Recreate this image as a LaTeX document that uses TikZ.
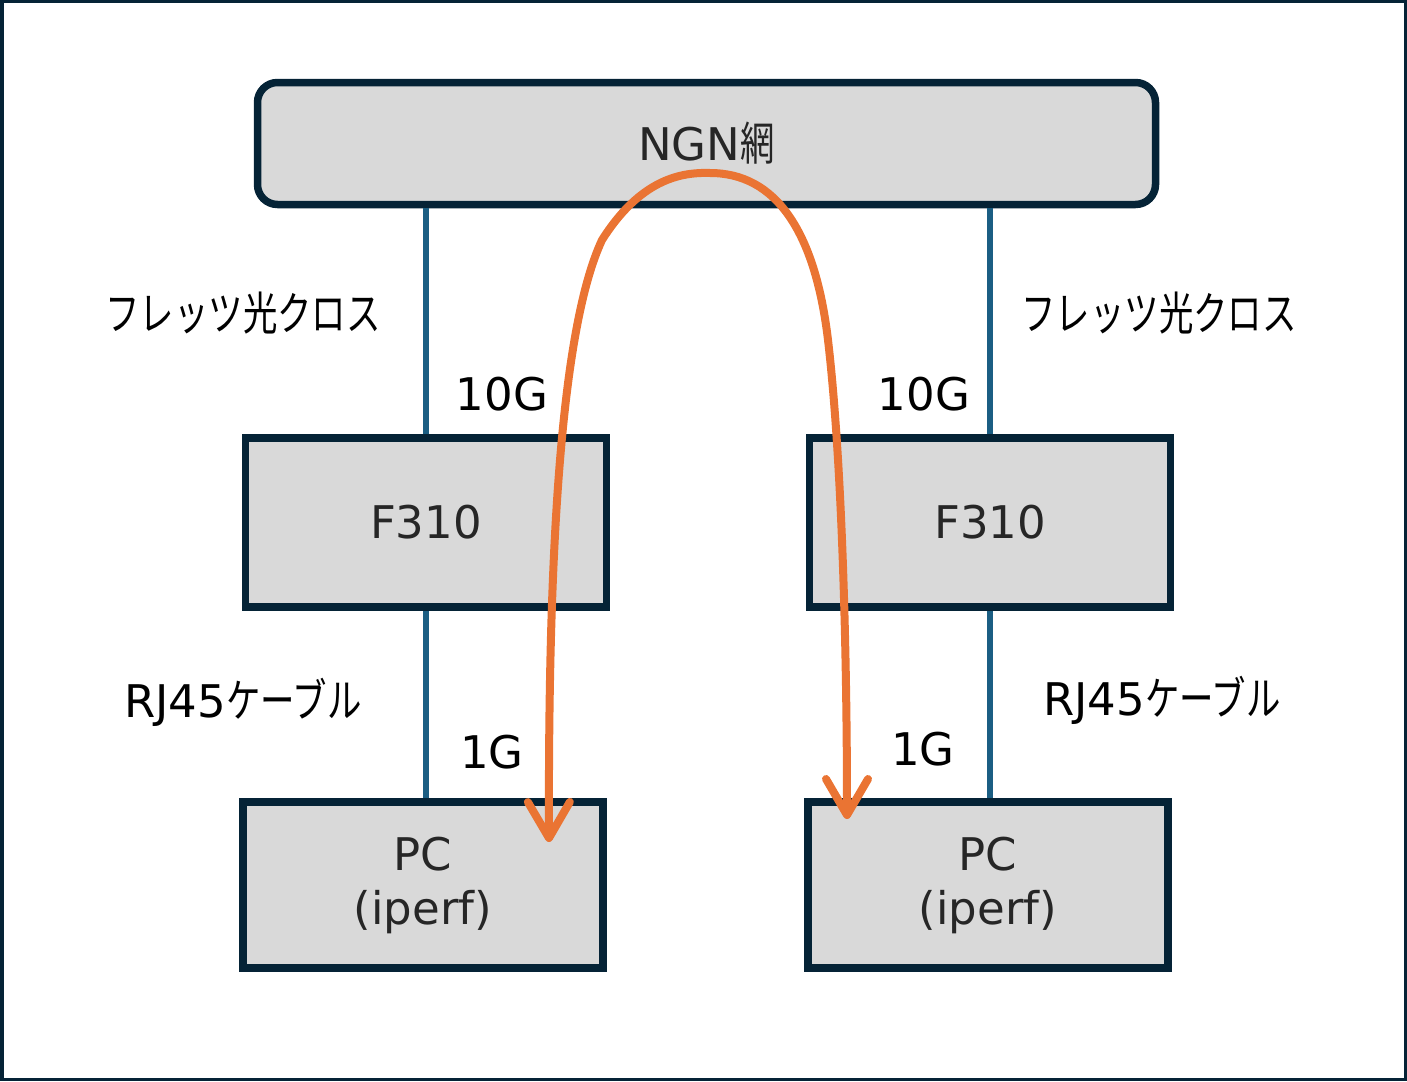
\documentclass[tikz,border=0pt]{standalone}
\usepackage{fontspec}
\setmainfont{DejaVu Sans}
\newfontfamily\cjk[FakeStretch=0.75,Scale=1.02]{Noto Sans CJK JP}
\usepackage{xcolor}
\usepackage{tikz}
\usetikzlibrary{arrows.meta,positioning,calc}
\definecolor{framenavy}{HTML}{052336}
\definecolor{boxgrey}{HTML}{D9D9D9}
\definecolor{inkdark}{HTML}{262626}
\definecolor{linkblue}{HTML}{1B5E83}
\definecolor{flowor}{HTML}{EA7433}
\tikzset{
  % ---- blocks ---------------------------------------------------------
  nbox/.style={
    draw=framenavy, line width=7.5pt, fill=boxgrey, align=center,
    text=inkdark, inner sep=0pt, font=\fontsize{45}{54}\selectfont},
  ncloud/.style={nbox, rounded corners=20pt,
    minimum width=898pt, minimum height=122pt},
  ndev/.style={nbox, minimum width=361pt, minimum height=169pt},
  npc/.style={nbox, minimum width=360pt, minimum height=166pt},
  nlabel/.style={text=black, inner sep=0pt, font=\fontsize{45}{54}\selectfont},
  % ---- connections ----------------------------------------------------
  nlink/.style={draw=linkblue, line width=6pt},
  nflow/.style={
    {Straight Barb[length=36pt,width=42pt,round]}-{Straight Barb[length=36pt,width=42pt,round]},
    draw=flowor, line width=8pt, line cap=round},
}
\begin{document}
\begin{tikzpicture}[x=1pt, y=-1pt]
\useasboundingbox (0,0) rectangle (1407,1081);
\draw[framenavy, line width=3.5pt] (1.75,1.75) rectangle (1405.25,1079.25);

% ---- network ---------------------------------------------------------
\node[ncloud] (ngn) at (706.5,143.5) {NGN{\cjk 網}};

% ---- routers ---------------------------------------------------------
\node[ndev] (f310L) at (426,522.5) {F310};
\node[ndev] (f310R) at (990,522.5) {F310};

% ---- hosts -----------------------------------------------------------
\node[npc] (pcL) at (423,885) {PC\\(iperf)};
\node[npc] (pcR) at (988,885) {PC\\(iperf)};

% ---- links -----------------------------------------------------------
\draw[nlink] (f310L.north |- ngn.south) -- (f310L.north);
\draw[nlink] (f310R.north |- ngn.south) -- (f310R.north);
\draw[nlink] (f310L.south) -- (f310L.south |- pcL.north);
\draw[nlink] (f310R.south) -- (f310R.south |- pcR.north);

% ---- link labels -----------------------------------------------------
\node[nlabel] (fiberL) at (243,313) {{\cjk フレッツ光クロス}};
\node[nlabel] (fiberR) at (1159,313) {{\cjk フレッツ光クロス}};
\node[nlabel] (upL) at (502,394) {10G};
\node[nlabel] (upR) at (924,394) {10G};
\node[nlabel] (cableL) at (243,702) {RJ45{\cjk ケーブル}};
\node[nlabel] (cableR) at (1162,700) {RJ45{\cjk ケーブル}};
\node[nlabel] (downL) at (492,752) {1G};
\node[nlabel] (downR) at (923,749) {1G};

% ---- iperf path ------------------------------------------------------
\coordinate (tipL) at (549,842);
\coordinate (tipR) at (847,819);
\draw[nflow] (tipL) .. controls (548,560) and (560,330) .. (602,240)
  .. controls (640,180) and (680,172) .. (710,173)
  .. controls (775,173) and (815,230) .. (828,340)
  .. controls (842,460) and (847,650) .. (tipR);

\end{tikzpicture}
\end{document}
